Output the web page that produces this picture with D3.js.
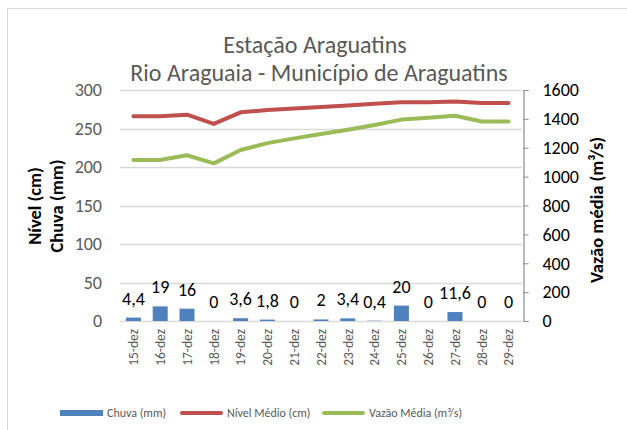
<!DOCTYPE html>
<html>
<head>
<meta charset="utf-8">
<script src="https://cdn.jsdelivr.net/npm/d3@7"></script>
<style>
body { margin: 0; background: #fff; }
svg { font-family: Carlito, "Open Sans", sans-serif; }
</style>
</head>
<body>
<div id="chart"></div>
<script>
var dias = ["15-dez","16-dez","17-dez","18-dez","19-dez","20-dez","21-dez","22-dez","23-dez","24-dez","25-dez","26-dez","27-dez","28-dez","29-dez"];
var chuva = [4.4, 19, 16, 0, 3.6, 1.8, 0, 2, 3.4, 0.4, 20, 0, 11.6, 0, 0];
var nivel = [266, 266, 268, 256, 271, 274, 276, 278, 280, 282, 284, 284, 285, 283, 283];
var vazao = [1115, 1115, 1148, 1092, 1184, 1232, 1265, 1295, 1325, 1358, 1395, 1408, 1422, 1382, 1382];
var ticksEsq = [0, 50, 100, 150, 200, 250, 300];
var ticksDir = [0, 200, 400, 600, 800, 1000, 1200, 1400, 1600];

var W = 627, H = 430;
var pLeft = 120, pRight = 522, pTop = 90, pBottom = 321;

var svg = d3.select('#chart').append('svg')
	.attr('width', W)
	.attr('height', H);

// chart frame
svg.append('rect')
	.attr('x', 7.5).attr('y', 8.5)
	.attr('width', W + 10).attr('height', H + 10)
	.attr('fill', '#fff')
	.attr('stroke', '#d9d9d9');

var x = d3.scaleBand().domain(dias).range([pLeft, pRight]).paddingInner(0.44).paddingOuter(0.22);
var xc = d3.scaleBand().domain(dias).range([pLeft, pRight]);
var y = d3.scaleLinear().domain([0, 300]).range([pBottom, pTop]);
var y2 = d3.scaleLinear().domain([0, 1600]).range([pBottom, pTop]);

// gridlines
svg.append('g').selectAll('line')
	.data(ticksEsq)
	.enter().append('line')
	.attr('x1', pLeft).attr('x2', pRight)
	.attr('y1', function (d) { return Math.round(y(d)) + 0.5; })
	.attr('y2', function (d) { return Math.round(y(d)) + 0.5; })
	.attr('stroke', '#d9d9d9')
	.attr('stroke-width', 1.3);

// left axis labels
svg.append('g').selectAll('text')
	.data(ticksEsq)
	.enter().append('text')
	.attr('x', 102)
	.attr('y', function (d) { return y(d); })
	.attr('dy', '0.35em')
	.attr('text-anchor', 'end')
	.attr('fill', '#595959')
	.style('font-size', '18px')
	.text(function (d) { return d; });

// right axis
var axisR = d3.axisRight(y2).tickValues(ticksDir).tickFormat(d3.format('d')).tickSize(5).tickPadding(14);
var gR = svg.append('g')
	.attr('transform', 'translate(' + (pRight + 1.5) + ',0)')
	.call(axisR);
gR.select('.domain').attr('stroke', '#8c8c8c').attr('stroke-width', 1.2);
gR.selectAll('.tick line').attr('stroke', '#8c8c8c');
gR.selectAll('.tick text')
	.attr('fill', '#000')
	.style('font-size', '18px')
	.style('font-family', 'Carlito, "Open Sans", sans-serif');

// bars
svg.append('g').selectAll('rect')
	.data(chuva)
	.enter().append('rect')
	.attr('x', function (d, i) { return x(dias[i]); })
	.attr('width', x.bandwidth())
	.attr('y', function (d) { return y(d); })
	.attr('height', function (d) { return pBottom - y(d); })
	.attr('fill', '#4f81bd');

// bar labels
svg.append('g').selectAll('text')
	.data(chuva)
	.enter().append('text')
	.attr('x', function (d, i) { return xc(dias[i]) + xc.bandwidth() / 2; })
	.attr('y', function (d) { return y(d) - 13; })
	.attr('text-anchor', 'middle')
	.attr('fill', '#000')
	.style('font-size', '18px')
	.text(function (d) { return String(d).replace('.', ','); });

// lines
var linhaNivel = d3.line()
	.x(function (d, i) { return xc(dias[i]) + xc.bandwidth() / 2; })
	.y(function (d) { return y(d); });
var linhaVazao = d3.line()
	.x(function (d, i) { return xc(dias[i]) + xc.bandwidth() / 2; })
	.y(function (d) { return y2(d); });

svg.append('path')
	.datum(nivel)
	.attr('d', linhaNivel)
	.attr('fill', 'none')
	.attr('stroke', '#c0504d')
	.attr('stroke-width', 4)
	.attr('stroke-linecap', 'round')
	.attr('stroke-linejoin', 'round');

svg.append('path')
	.datum(vazao)
	.attr('d', linhaVazao)
	.attr('fill', 'none')
	.attr('stroke', '#9bbb59')
	.attr('stroke-width', 4)
	.attr('stroke-linecap', 'round')
	.attr('stroke-linejoin', 'round');

// x labels, rotated
svg.append('g').selectAll('text')
	.data(dias)
	.enter().append('text')
	.attr('transform', function (d) {
		return 'translate(' + (xc(d) + xc.bandwidth() / 2) + ',' + (pBottom + 8) + ') rotate(-90)';
	})
	.attr('dy', '0.35em')
	.attr('text-anchor', 'end')
	.attr('fill', '#595959')
	.style('font-size', '13.5px')
	.text(function (d) { return d; });

// titles
svg.append('text')
	.attr('x', 315).attr('y', 53)
	.attr('text-anchor', 'middle')
	.attr('fill', '#595959')
	.style('font-size', '24px')
	.text('Estação Araguatins');
svg.append('text')
	.attr('x', 319).attr('y', 81)
	.attr('text-anchor', 'middle')
	.attr('fill', '#595959')
	.style('font-size', '24px')
	.text('Rio Araguaia - Município de Araguatins');

// axis titles
svg.append('text')
	.attr('transform', 'translate(41,206) rotate(-90)')
	.attr('text-anchor', 'middle')
	.attr('fill', '#000')
	.style('font-size', '18.5px')
	.style('font-weight', 'bold')
	.text('Nível (cm)');
svg.append('text')
	.attr('transform', 'translate(63,206) rotate(-90)')
	.attr('text-anchor', 'middle')
	.attr('fill', '#000')
	.style('font-size', '18.5px')
	.style('font-weight', 'bold')
	.text('Chuva (mm)');
svg.append('text')
	.attr('transform', 'translate(603,210) rotate(-90)')
	.attr('text-anchor', 'middle')
	.attr('fill', '#000')
	.style('font-size', '18.5px')
	.style('font-weight', 'bold')
	.text('Vazão média (m³/s)');

// legend
var legenda = [
	{ nome: 'Chuva (mm)', cor: '#4f81bd', tipo: 'bar', x: 60 },
	{ nome: 'Nível Médio (cm)', cor: '#c0504d', tipo: 'line', x: 180 },
	{ nome: 'Vazão Média (m³/s)', cor: '#9bbb59', tipo: 'line', x: 322 }
];
var lg = svg.append('g').selectAll('g')
	.data(legenda)
	.enter().append('g')
	.attr('transform', function (d) { return 'translate(' + d.x + ',413)'; });
lg.append('rect')
	.attr('x', 0).attr('y', function (d) { return d.tipo === 'bar' ? -3 : -2; })
	.attr('width', 43)
	.attr('height', function (d) { return d.tipo === 'bar' ? 6 : 4; })
	.attr('rx', function (d) { return d.tipo === 'bar' ? 0 : 2; })
	.attr('fill', function (d) { return d.cor; });
lg.append('text')
	.attr('x', 47)
	.attr('dy', '0.35em')
	.attr('fill', '#595959')
	.style('font-size', '12px')
	.text(function (d) { return d.nome; });
</script>
</body>
</html>
